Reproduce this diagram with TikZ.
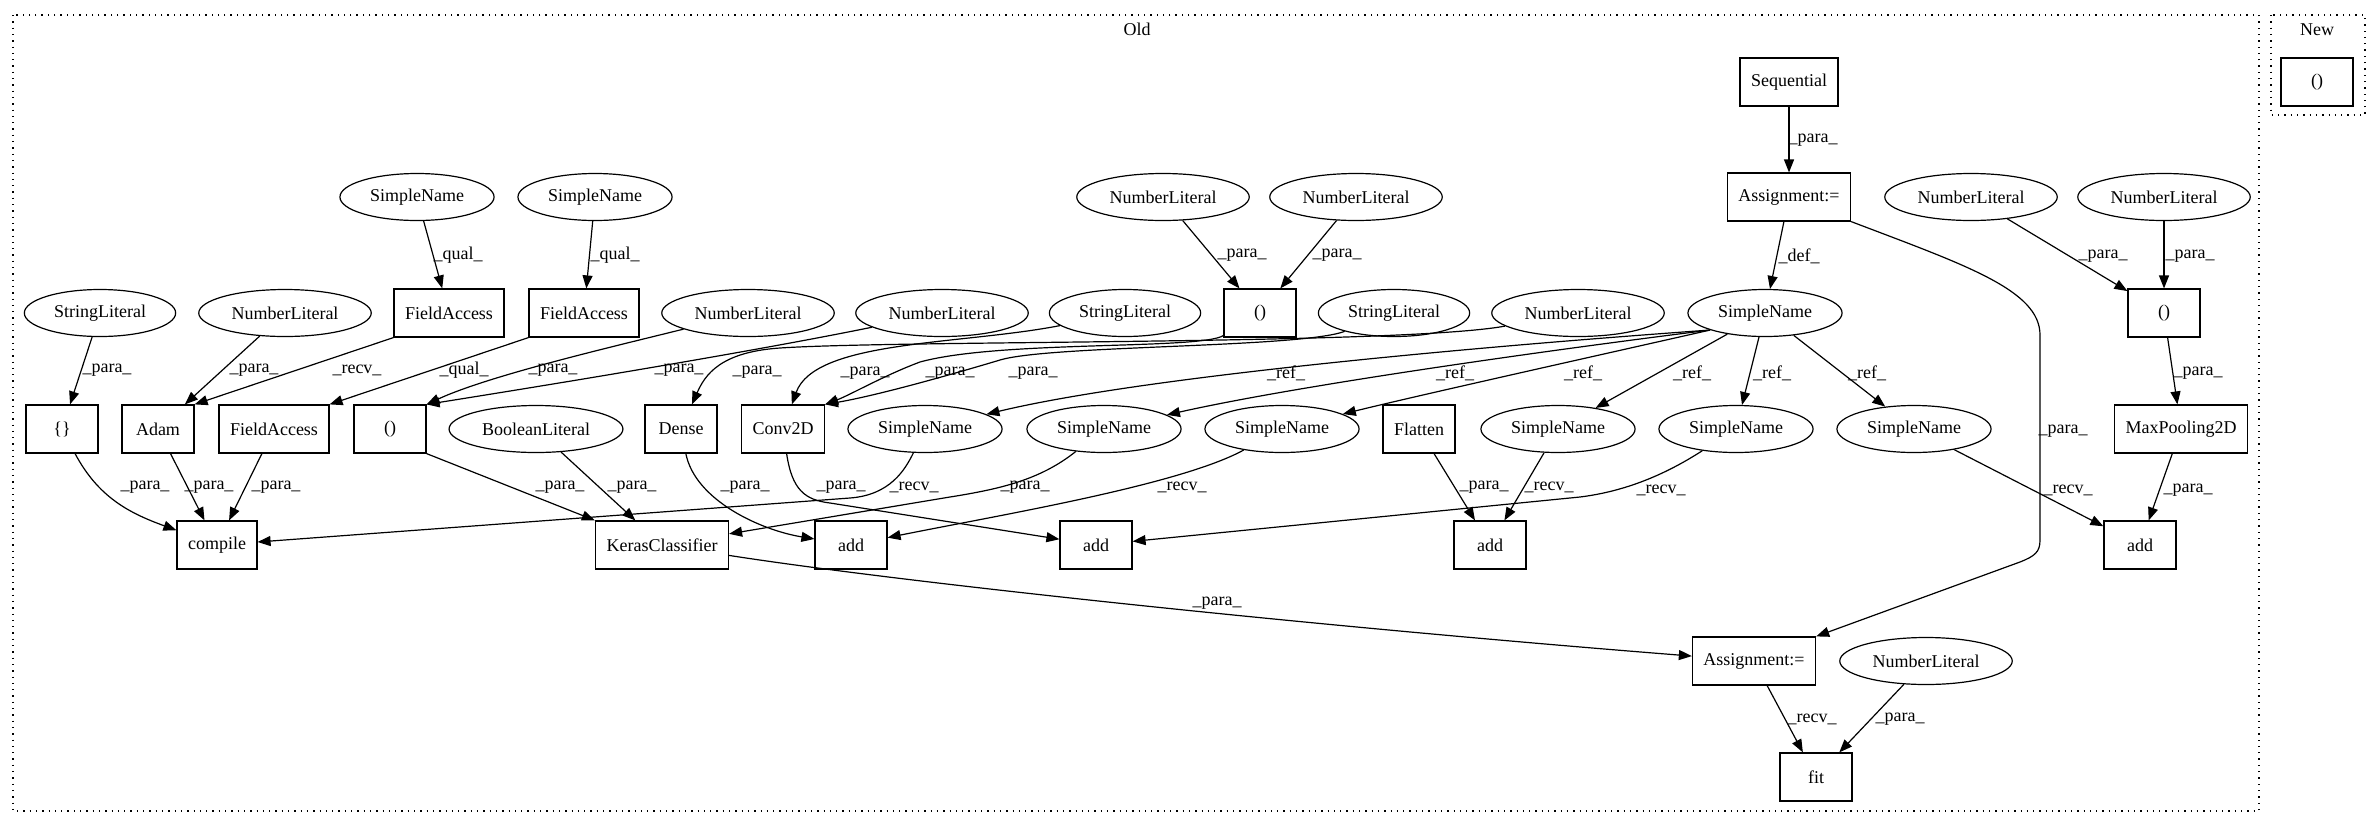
\documentclass[tikz,border=0pt]{standalone}
\usepackage{fontspec}
\setmainfont{Liberation Serif}
\usetikzlibrary{shapes.geometric,arrows.meta}
\newcommand\gfont{\fontsize{18}{20}\selectfont}
\begin{document}
\begin{tikzpicture}[x=1pt,y=1pt,
 box/.style={draw,line width=1.2pt,rectangle,minimum width=72pt,minimum height=48pt,inner xsep=11pt,inner ysep=2pt,font=\gfont},
 ell/.style={draw,line width=1.2pt,ellipse,minimum height=47pt,inner xsep=7.5pt,inner ysep=2pt,font=\gfont},
 lbl/.style={font=\gfont,inner sep=0pt},
 arr/.style={line width=1.2pt,-{Triangle[length=13pt,width=10pt]}},
 clus/.style={line width=1.3pt,dash pattern=on 1.3pt off 5pt},
]
\useasboundingbox (0,0) rectangle (2380,-828);
% clusters
\draw[clus] (13,-15) rectangle (2259,-811);
\node[lbl] (oldl) at (1137,-29) {Old};
\draw[clus] (2271,-15) rectangle (2365,-115);
\node[lbl] (newl) at (2317,-30) {New};
% rank 0
\node[box] (seq) at (1789,-82) {Sequential};
\node[box] (newp) at (2317,-82) {()};
% rank 1
\node[ell] (snq1) at (417,-197) {SimpleName};
\node[ell] (snq2) at (595,-197) {SimpleName};
\node[ell] (nlt1) at (1163,-197) {NumberLiteral};
\node[ell] (nlt2) at (1356,-197) {NumberLiteral};
\node[box] (asg1) at (1789,-197) {Assignment:=};
\node[ell] (nlr1) at (1971,-197) {NumberLiteral};
\node[ell] (nlr2) at (2164,-197) {NumberLiteral};
% rank 2
\node[ell] (strl1) at (100,-313) {StringLiteral};
\node[ell] (nladam) at (285,-313) {NumberLiteral};
\node[box] (fa1) at (449,-313) {FieldAccess};
\node[box] (fa2) at (584,-313) {FieldAccess};
\node[ell] (nlp1) at (748,-313) {NumberLiteral};
\node[ell] (nlp2) at (942,-313) {NumberLiteral};
\node[ell] (strl2) at (1125,-313) {StringLiteral};
\node[box] (part) at (1260,-313) {()};
\node[ell] (strl3) at (1394,-313) {StringLiteral};
\node[ell] (nlx) at (1578,-313) {NumberLiteral};
\node[ell] (snmain) at (1765,-313) {SimpleName};
\node[box] (parr) at (2164,-313) {()};
% rank 3
\node[box] (curly) at (62,-429) {\{\}};
\node[box] (adam) at (158,-429) {Adam};
\node[box] (fa3) at (274,-429) {FieldAccess};
\node[box] (parl) at (390,-429) {()};
\node[ell] (booll) at (536,-429) {BooleanLiteral};
\node[box] (dense) at (681,-429) {Dense};
\node[box] (conv) at (783,-429) {Conv2D};
\node[ell] (sna) at (925,-429) {SimpleName};
\node[ell] (snb) at (1104,-429) {SimpleName};
\node[ell] (snc) at (1282,-429) {SimpleName};
\node[box] (flat) at (1419,-429) {Flatten};
\node[ell] (snd) at (1558,-429) {SimpleName};
\node[ell] (sne) at (1736,-429) {SimpleName};
\node[ell] (snf) at (1914,-429) {SimpleName};
\node[box] (maxp) at (2181,-429) {MaxPooling2D};
% rank 4
\node[box] (compile) at (217,-545) {compile};
\node[box] (keras) at (662,-545) {KerasClassifier};
\node[box] (add1) at (851,-545) {add};
\node[box] (add2) at (1096,-545) {add};
\node[box] (add3) at (1490,-545) {add};
\node[box] (add4) at (2140,-545) {add};
% rank 5,6
\node[box] (asg2) at (1754,-661) {Assignment:=};
\node[ell] (nlfit) at (1926,-661) {NumberLiteral};
\node[box] (fit) at (1816,-777) {fit};

% edges
\draw[arr] (snq1) -- (fa1);
\draw[arr] (snq2) -- (fa2);
\draw[arr] (strl1) -- (curly);
\draw[arr] (nladam) -- (adam);
\draw[arr] (fa1.south west) -- (adam.north east);
\draw[arr] (fa2.south west) -- (fa3.north east);
\draw[arr] (curly) to[out=-62,in=160] (compile);
\draw[arr] (adam) -- (compile);
\draw[arr] (fa3) -- (compile);
\draw[arr] (parl.south east) -- (keras.north west);
\draw[arr] (booll) -- (keras);
\draw[arr] (nlt1) -- (part);
\draw[arr] (nlt2) -- (part);
\draw[arr] (seq) -- (asg1);
\draw[arr] (asg1) -- (snmain);
\draw[arr] (asg1.south east) .. controls (1965,-265) and (2040,-290) .. (2040,-335) -- (2040,-540) .. controls (2040,-552) and (2035,-556) .. (2020,-562) -- (asg2.north east);
\draw[arr] (nlr1) -- (parr);
\draw[arr] (nlr2) -- (parr);
\draw[arr] (parr) -- (maxp);
\draw[arr] (maxp) -- (add4);
\draw[arr] (snf) -- (add4);
\draw[arr] (keras) .. controls (900,-582) and (1300,-625) .. (asg2);
\draw[arr] (asg2) -- (fit);
\draw[arr] (nlfit) -- (fit);
% refs
\draw[arr] (snmain.south west) .. controls (1500,-345) and (1150,-375) .. (sna);
\draw[arr] (snmain.south west) .. controls (1550,-350) and (1300,-385) .. (snb);
\draw[arr] (snmain.south west) .. controls (1600,-355) and (1420,-395) .. (snc);
\draw[arr] (snmain) -- (snd);
\draw[arr] (snmain) -- (sne);
\draw[arr] (snmain) -- (snf);
% into rank 4
\draw[arr] (sna) .. controls (905,-470) and (890,-495) .. (850,-498) -- (compile);
\draw[arr] (snb) .. controls (1040,-480) and (1000,-489) .. (950,-497) -- (keras);
\draw[arr] (snc) .. controls (1180,-485) and (1000,-515) .. (add1);
\draw[arr] (dense) .. controls (695,-500) and (760,-530) .. (add1);
\draw[arr] (conv) .. controls (792,-490) and (805,-500) .. (830,-503) -- (add2);
\draw[arr] (sne) .. controls (1660,-478) and (1620,-492) .. (1580,-497) -- (add2);
\draw[arr] (flat) -- (add3);
\draw[arr] (snd) -- (add3);
% into rank 3 (long)
\draw[arr] (nlp1) .. controls (620,-345) and (490,-375) .. (parl.north east);
\draw[arr] (nlp2) .. controls (760,-350) and (580,-380) .. (parl.north east);
\draw[arr] (nlx) .. controls (1400,-345) and (900,-340) .. (780,-348) .. controls (720,-352) and (705,-375) .. (dense);
\draw[arr] (strl2) .. controls (960,-345) and (815,-340) .. (conv);
\draw[arr] (part) .. controls (1200,-350) and (1000,-340) .. (920,-362) .. controls (885,-375) and (850,-395) .. (conv.north east);
\draw[arr] (strl3) .. controls (1300,-348) and (1050,-345) .. (1000,-360) .. controls (960,-372) and (880,-395) .. (conv.north east);

% labels
\node[lbl] (l1) at (458,-255) {\_qual\_};
\node[lbl] (l2) at (615,-255) {\_qual\_};
\node[lbl] (l3) at (107,-370) {\_para\_};
\node[lbl] (l4) at (254,-370) {\_para\_};
\node[lbl] (l5) at (357,-370) {\_recv\_};
\node[lbl] (l6) at (464,-370) {\_qual\_};
\node[lbl] (l7) at (553,-370) {\_para\_};
\node[lbl] (l8) at (679,-370) {\_para\_};
\node[lbl] (l9) at (757,-372) {\_para\_};
\node[lbl] (l10) at (865,-373) {\_para\_};
\node[lbl] (l11) at (950,-373) {\_para\_};
\node[lbl] (l12) at (1033,-373) {\_para\_};
\node[lbl] (l13) at (145,-487) {\_para\_};
\node[lbl] (l14) at (209,-487) {\_para\_};
\node[lbl] (l15) at (276,-487) {\_para\_};
\node[lbl] (l16) at (560,-487) {\_para\_};
\node[lbl] (l17) at (632,-487) {\_para\_};
\node[lbl] (l18) at (745,-487) {\_para\_};
\node[lbl] (l19) at (841,-487) {\_para\_};
\node[lbl] (l20) at (914,-487) {\_recv\_};
\node[lbl] (l21) at (1025,-487) {\_para\_};
\node[lbl] (l22) at (1182,-487) {\_recv\_};
\node[lbl] (l23) at (1484,-487) {\_para\_};
\node[lbl] (l24) at (1549,-487) {\_recv\_};
\node[lbl] (l25) at (1661,-490) {\_recv\_};
\node[lbl] (l26) at (2068,-490) {\_recv\_};
\node[lbl] (l27) at (2188,-490) {\_para\_};
\node[lbl] (l28) at (2198,-373) {\_para\_};
\node[lbl] (l29) at (2103,-256) {\_para\_};
\node[lbl] (l30) at (2190,-256) {\_para\_};
\node[lbl] (l31) at (1799,-256) {\_def\_};
\node[lbl] (l32) at (1813,-140) {\_para\_};
\node[lbl] (l33) at (1242,-255) {\_para\_};
\node[lbl] (l34) at (1337,-255) {\_para\_};
\node[lbl] (l35) at (1286,-373) {\_ref\_};
\node[lbl] (l36) at (1455,-373) {\_ref\_};
\node[lbl] (l37) at (1583,-373) {\_ref\_};
\node[lbl] (l38) at (1692,-373) {\_ref\_};
\node[lbl] (l39) at (1772,-373) {\_ref\_};
\node[lbl] (l40) at (1867,-373) {\_ref\_};
\node[lbl] (l41) at (2063,-431) {\_para\_};
\node[lbl] (l42) at (1217,-603) {\_para\_};
\node[lbl] (l43) at (1812,-719) {\_recv\_};
\node[lbl] (l44) at (1900,-719) {\_para\_};
\end{tikzpicture}
\end{document}
